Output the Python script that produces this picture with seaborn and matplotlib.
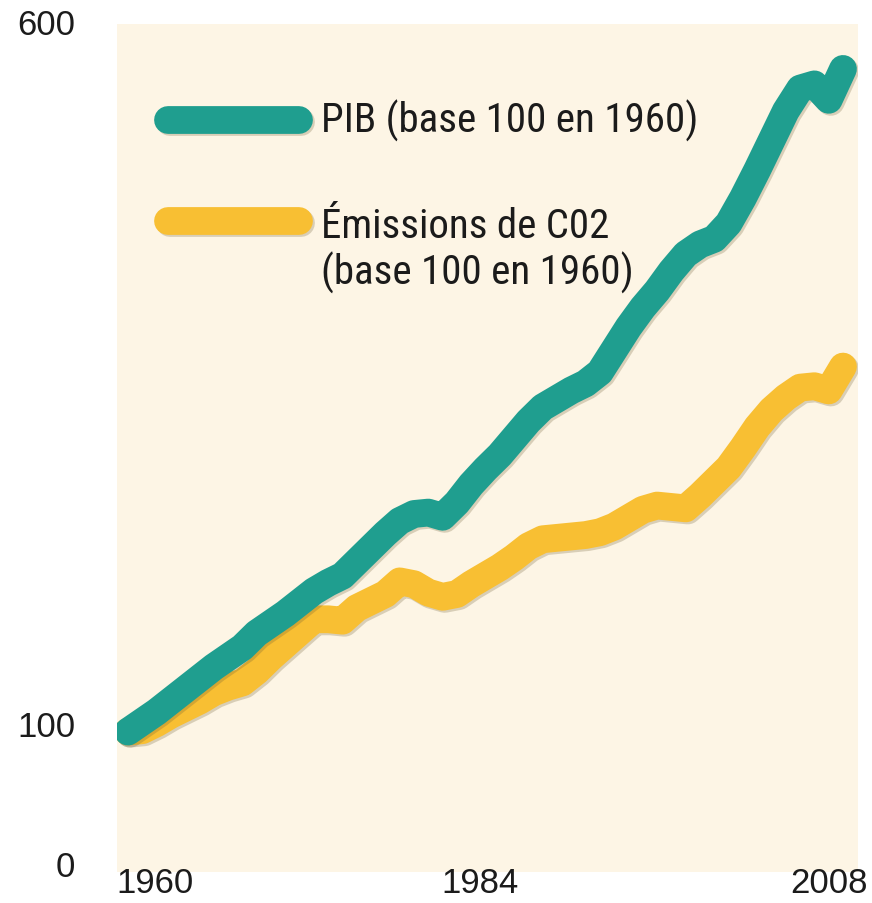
import matplotlib
matplotlib.use("Agg")
import matplotlib.pyplot as plt
import matplotlib.patheffects as pe
from matplotlib import font_manager as fm
from matplotlib.lines import Line2D
from matplotlib.transforms import ScaledTranslation
import pandas as pd
import seaborn as sns

# --- data: world GDP and CO2 emissions, index 100 in 1960 ---
years = list(range(1960, 2011))
pib = [100, 107, 114, 122, 130, 138, 146, 153, 160, 170,
       177, 184, 192, 200, 206, 211, 221, 231, 241, 250,
       255, 256, 253, 263, 276, 287, 297, 309, 321, 331,
       337, 343, 348, 356, 372, 388, 402, 414, 428, 440,
       447, 451, 462, 480, 500, 521, 542, 558, 561, 550,
       572]
co2 = [100, 101, 106, 112, 117, 122, 128, 132, 135, 143,
       153, 162, 171, 180, 180, 179, 188, 193, 198, 207,
       205, 199, 196, 198, 205, 211, 217, 224, 232, 237,
       238, 239, 240, 242, 246, 252, 258, 261, 260, 259,
       268, 278, 288, 302, 317, 329, 338, 345, 346, 343,
       360]

y_ticks = [0, 100, 600]
x_ticks = [1960, 1984, 2008]
label_pib = "PIB (base 100 en 1960)"
label_co2 = "Émissions de C02\n(base 100 en 1960)"

TEAL = "#1f9e8f"
YELLOW = "#f8bf33"
PANEL = "#fdf5e5"
INK = "#1b1b1b"

df_pib = pd.DataFrame({"annee": years, "indice": pib})
df_co2 = pd.DataFrame({"annee": years, "indice": co2})

sns.set_style("white")
plt.rcParams["font.family"] = ["Liberation Sans", "DejaVu Sans"]


def condensed_font(size):
    """Pick a narrow sans face for the key labels when one is installed."""
    regular = [f for f in fm.fontManager.ttflist
               if f.style == "normal" and f.weight in (400, "normal", "regular", "book")]
    for want in ("Liberation Sans Narrow", "Roboto Condensed", "Open Sans Condensed",
                 "Noto Sans Condensed", "DejaVu Sans Condensed"):
        for f in regular:
            if f.name == want:
                return fm.FontProperties(fname=f.fname, size=size)
    for f in regular:
        if f.stretch in ("condensed", "semi-condensed") and "Mono" not in f.name \
                and "Serif" not in f.name:
            return fm.FontProperties(fname=f.fname, size=size)
    return fm.FontProperties(family="Liberation Sans", size=26)


leg_prop = condensed_font(29.5)

W, H = 872, 904
fig = plt.figure(figsize=(W / 100, H / 100), dpi=100)
fig.patch.set_facecolor("white")
ax = fig.add_axes([117 / W, (H - 873) / H, 741 / W, 848 / H])
ax.set_facecolor(PANEL)

shadow = [pe.SimpleLineShadow(offset=(1.5, -1.5), shadow_color="#6b5a30", alpha=0.25),
          pe.Normal()]
line_kw = dict(linewidth=20, solid_capstyle="round", solid_joinstyle="round",
               path_effects=shadow, legend=False)

sns.lineplot(data=df_co2, x="annee", y="indice", color=YELLOW, ax=ax, **line_kw)
sns.lineplot(data=df_pib, x="annee", y="indice", color=TEAL, ax=ax, **line_kw)

ax.set_xlim(1959.23, 2011.05)
ax.set_ylim(0, 604)
ax.set_xlabel("")
ax.set_ylabel("")
for s in ax.spines.values():
    s.set_visible(False)

ax.set_yticks(y_ticks)
ax.set_yticklabels([str(v) for v in y_ticks])
ax.set_xticks(x_ticks)
ax.set_xticklabels([str(v) for v in x_ticks])
ax.tick_params(axis="both", length=0, labelsize=25, labelcolor=INK)
ax.tick_params(axis="y", pad=30)
ax.tick_params(axis="x", pad=0)

# nudge tick labels to sit like the printed layout
for lab in ax.get_yticklabels():
    lab.set_transform(lab.get_transform() + ScaledTranslation(0, 8.5 / 100, fig.dpi_scale_trans))
for lab, dx in zip(ax.get_xticklabels(), [27, 9, 15]):
    lab.set_verticalalignment("center")
    lab.set_transform(lab.get_transform() + ScaledTranslation(dx / 100, -10.5 / 100, fig.dpi_scale_trans))


# legend keys and labels
def ax_y(px_from_top):
    return (873 - px_from_top) / 848


def ax_x(px):
    return (px - 117) / 741


for color, yc in [(TEAL, 120.5), (YELLOW, 222)]:
    ax.add_line(Line2D([ax_x(168), ax_x(299)], [ax_y(yc), ax_y(yc)],
                       transform=ax.transAxes, color=color, linewidth=20,
                       solid_capstyle="round", path_effects=shadow))

ax.text(ax_x(321), ax_y(133), label_pib, transform=ax.transAxes,
        ha="left", va="baseline", color=INK, fontproperties=leg_prop)
for line, base in zip(label_co2.split("\n"), [238, 285]):
    ax.text(ax_x(321), ax_y(base), line, transform=ax.transAxes,
            ha="left", va="baseline", color=INK, fontproperties=leg_prop)

fig.savefig("out.png", dpi=100, facecolor="white")
